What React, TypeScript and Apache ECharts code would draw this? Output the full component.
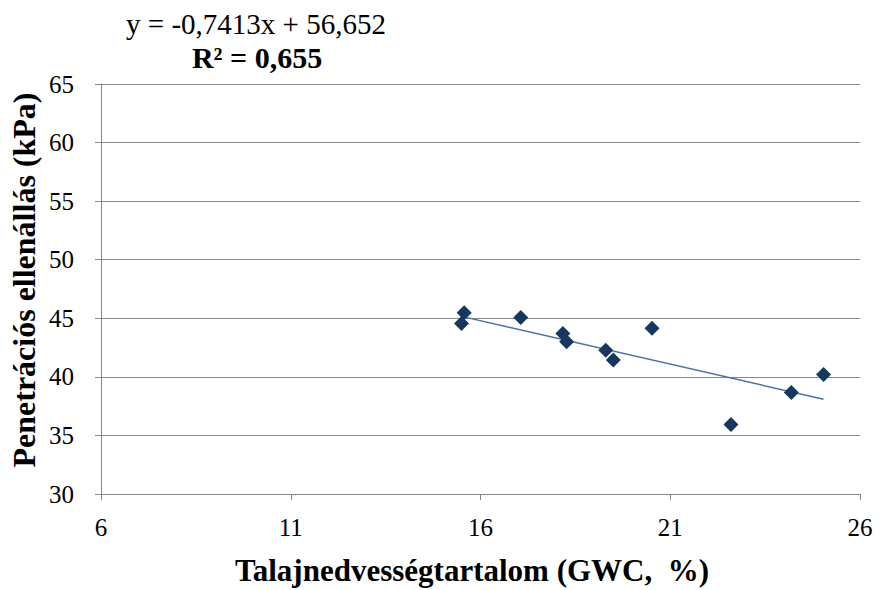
import React, { useEffect, useRef } from "react";
import * as echarts from "echarts";

const gwc = [15.57, 15.5, 17.06, 18.17, 18.27, 19.3, 19.5, 20.52, 22.6, 24.19, 25.04];
const penetration = [45.47, 44.56, 45.07, 43.71, 43.0, 42.28, 41.43, 44.14, 35.94, 38.67, 40.21];
const slope = -0.7413;
const intercept = 56.652;
const equationText = "y = -0,7413x + 56,652";
const r2Text = "R² = 0,655";
const xTitle = "Talajnedvességtartalom (GWC,  %)";
const yTitle = "Penetrációs ellenállás (kPa)";

export default function App() {
  const ref = useRef<HTMLDivElement>(null);
  useEffect(() => {
    if (!ref.current) return;
    const chart = echarts.init(ref.current, null, { renderer: "svg" });
    const xMin = Math.min(...gwc);
    const xMax = Math.max(...gwc);
    const trend = [
      [xMin, slope * xMin + intercept],
      [xMax, slope * xMax + intercept],
    ];
    const font = "Liberation Serif";
    chart.setOption({
      animation: false,
      backgroundColor: "#ffffff",
      grid: { left: 101, right: 20, top: 84, bottom: 96 },
      xAxis: {
        type: "value",
        min: 6,
        max: 26,
        interval: 5,
        axisLine: { show: true, lineStyle: { color: "#868686", width: 1 } },
        axisTick: { show: true, length: 6, lineStyle: { color: "#868686" } },
        axisLabel: { color: "#000", fontFamily: font, fontSize: 25, margin: 21 },
        splitLine: { show: false },
      },
      yAxis: {
        type: "value",
        min: 30,
        max: 65,
        interval: 5,
        axisLine: { show: true, lineStyle: { color: "#868686", width: 1 } },
        axisTick: { show: true, length: 6, lineStyle: { color: "#868686" } },
        axisLabel: { color: "#000", fontFamily: font, fontSize: 25, margin: 27 },
        splitLine: { show: true, lineStyle: { color: "#868686", width: 1 } },
      },
      series: [
        {
          type: "line",
          data: trend,
          showSymbol: false,
          symbol: "none",
          lineStyle: { color: "#4A72A6", width: 1.5 },
          z: 2,
        },
        {
          type: "scatter",
          data: gwc.map((x, i) => [x, penetration[i]]),
          symbol: "diamond",
          symbolSize: 15,
          itemStyle: { color: "#17375E", opacity: 1 },
          z: 3,
        },
      ],
      graphic: [
        {
          type: "text",
          x: 256,
          y: 24,
          style: {
            text: equationText,
            fontFamily: font,
            fontSize: 29,
            fill: "#000",
            align: "center",
            verticalAlign: "middle",
          },
        },
        {
          type: "text",
          x: 257,
          y: 57,
          style: {
            text: r2Text,
            fontFamily: font,
            fontSize: 30,
            fontWeight: "bold",
            fill: "#000",
            align: "center",
            verticalAlign: "middle",
          },
        },
        {
          type: "text",
          x: 472,
          y: 570,
          style: {
            text: xTitle,
            fontFamily: font,
            fontSize: 31,
            fontWeight: "bold",
            fill: "#000",
            align: "center",
            verticalAlign: "middle",
          },
        },
        {
          type: "text",
          x: 24,
          y: 280,
          rotation: Math.PI / 2,
          style: {
            text: yTitle,
            fontFamily: font,
            fontSize: 32,
            fontWeight: "bold",
            fill: "#000",
            align: "center",
            verticalAlign: "middle",
          },
        },
      ],
    });
    return () => chart.dispose();
  }, []);
  return <div ref={ref} style={{ width: 880, height: 590, position: "absolute", left: 0, top: 0 }} />;
}
